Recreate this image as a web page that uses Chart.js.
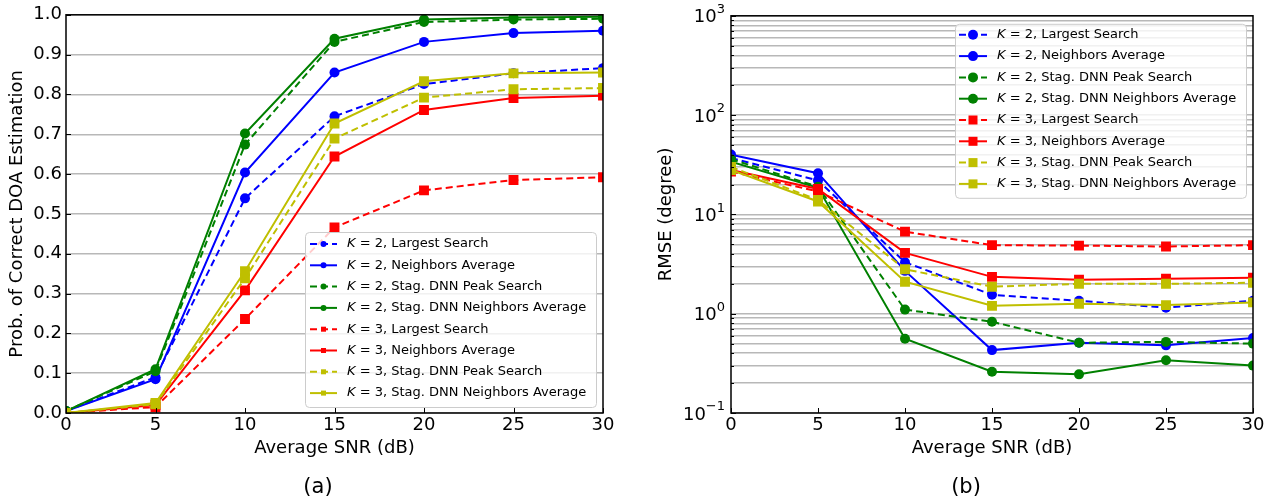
<!DOCTYPE html>
<html>
<head>
<meta charset="utf-8">
<script src="https://cdn.jsdelivr.net/npm/chart.js@4/dist/chart.umd.min.js"></script>
<style>
  body { margin: 0; background: #fff; width: 1268px; height: 502px; position: relative; overflow: hidden; font-family: 'DejaVu Sans', sans-serif; }
  .panel { position: absolute; top: 0; }
  .cap { position: absolute; top: 474px; width: 60px; text-align: center; font-size: 21px; color: #000; }
</style>
</head>
<body>
<div class="panel" style="left:0"><canvas id="probChart" width="634" height="502"></canvas></div>
<div class="panel" style="left:634px"><canvas id="rmseChart" width="634" height="502"></canvas></div>
<div class="cap" style="left:288px">(a)</div>
<div class="cap" style="left:936px">(b)</div>
<script>
// x axis: average SNR in dB
var snr = [0, 5, 10, 15, 20, 25, 30];
var snrTicks = [0, 5, 10, 15, 20, 25, 30];

var seriesLabels = [
  'K = 2, Largest Search',
  'K = 2, Neighbors Average',
  'K = 2, Stag. DNN Peak Search',
  'K = 2, Stag. DNN Neighbors Average',
  'K = 3, Largest Search',
  'K = 3, Neighbors Average',
  'K = 3, Stag. DNN Peak Search',
  'K = 3, Stag. DNN Neighbors Average'
];

// (a) probability of correct DOA estimation
var probK2Largest   = [0.005, 0.090, 0.539, 0.745, 0.826, 0.853, 0.866];
var probK2Neighbors = [0.005, 0.085, 0.604, 0.855, 0.932, 0.954, 0.960];
var probK2StagPeak  = [0.005, 0.105, 0.674, 0.932, 0.982, 0.988, 0.990];
var probK2StagNeigh = [0.005, 0.110, 0.702, 0.940, 0.988, 0.993, 0.995];
var probK3Largest   = [0.000, 0.015, 0.236, 0.466, 0.559, 0.585, 0.592];
var probK3Neighbors = [0.000, 0.020, 0.308, 0.644, 0.761, 0.791, 0.797];
var probK3StagPeak  = [0.000, 0.022, 0.338, 0.689, 0.792, 0.813, 0.816];
var probK3StagNeigh = [0.000, 0.025, 0.356, 0.727, 0.833, 0.853, 0.855];
var probTicks = [0, 0.1, 0.2, 0.3, 0.4, 0.5, 0.6, 0.7, 0.8, 0.9, 1.0];

// (b) RMSE in degree
var rmseK2Largest   = [37, 22, 3.3, 1.55, 1.35, 1.15, 1.35];
var rmseK2Neighbors = [40, 26, 2.7, 0.43, 0.51, 0.48, 0.57];
var rmseK2StagPeak  = [36, 19, 1.1, 0.83, 0.51, 0.52, 0.50];
var rmseK2StagNeigh = [34, 18.5, 0.56, 0.26, 0.245, 0.34, 0.30];
var rmseK3Largest   = [27, 17, 6.7, 4.9, 4.85, 4.75, 4.9];
var rmseK3Neighbors = [28, 18, 4.1, 2.35, 2.2, 2.25, 2.3];
var rmseK3StagPeak  = [30, 14, 2.8, 1.87, 2.0, 2.0, 2.05];
var rmseK3StagNeigh = [28, 13.5, 2.1, 1.2, 1.26, 1.22, 1.3];
var rmseTicks = [0.1, 0.2, 0.3, 0.4, 0.5, 0.6, 0.7, 0.8, 0.9,
                 1, 2, 3, 4, 5, 6, 7, 8, 9,
                 10, 20, 30, 40, 50, 60, 70, 80, 90,
                 100, 200, 300, 400, 500, 600, 700, 800, 900, 1000];
// decade ticks -> exponent shown as superscript
var rmseTickExp = { '0.1': '\u22121', '1': '0', '10': '1', '100': '2', '1000': '3' };

var seriesColors = ['#0000ff', '#0000ff', '#008000', '#008000', '#ff0000', '#ff0000', '#bfbf00', '#bfbf00'];
var seriesDashed = [true, false, true, false, true, false, true, false];
var seriesMarkers = ['circle', 'circle', 'circle', 'circle', 'rect', 'rect', 'rect', 'rect'];

Chart.defaults.font.family = "'DejaVu Sans', sans-serif";
Chart.defaults.color = '#000';

function makeDatasets(seriesList) {
  return seriesList.map(function(vals, i) {
    return {
      label: seriesLabels[i],
      data: snr.map(function(x, j) { return {x: x, y: vals[j]}; }),
      borderColor: seriesColors[i],
      backgroundColor: seriesColors[i],
      borderWidth: 2,
      borderDash: seriesDashed[i] ? [7, 4] : [],
      pointStyle: seriesMarkers[i],
      pointRadius: seriesMarkers[i] === 'rect' ? 7 : 5,
      pointBorderWidth: 0,
      pointBackgroundColor: seriesColors[i],
      tension: 0,
      order: seriesList.length - i
    };
  });
}

// black frame plus inward tick marks, like the matplotlib axes
var frameTicks = {
  id: 'frameTicks',
  afterDatasetsDraw: function(chart) {
    var a = chart.chartArea, ctx = chart.ctx;
    var xs = chart.scales.x, ys = chart.scales.y;
    ctx.save();
    ctx.strokeStyle = '#000';
    ctx.lineWidth = 1;
    xs.ticks.forEach(function(t) {
      var px = Math.round(xs.getPixelForValue(t.value)) + 0.5;
      ctx.beginPath(); ctx.moveTo(px, a.bottom); ctx.lineTo(px, a.bottom - 5); ctx.stroke();
    });
    ys.ticks.forEach(function(t) {
      var py = Math.round(ys.getPixelForValue(t.value)) + 0.5;
      var len = (ys.type === 'logarithmic' && !rmseTickExp[String(t.value)]) ? 3 : 5;
      ctx.beginPath(); ctx.moveTo(a.left, py); ctx.lineTo(a.left + len, py); ctx.stroke();
    });
    ctx.lineWidth = 1.5;
    ctx.strokeRect(a.left, a.top, a.right - a.left, a.bottom - a.top);
    ctx.restore();
  }
};

// power-of-ten labels with a raised exponent
var powerLabels = {
  id: 'powerLabels',
  afterDraw: function(chart) {
    var ctx = chart.ctx, ys = chart.scales.y, a = chart.chartArea;
    ctx.save();
    ctx.fillStyle = '#000';
    ctx.textBaseline = 'middle';
    ys.ticks.forEach(function(t) {
      var exp = rmseTickExp[String(t.value)];
      if (!exp) return;
      var py = ys.getPixelForValue(t.value);
      ctx.font = "13px 'DejaVu Sans'";
      var ew = ctx.measureText(exp).width;
      ctx.font = "18px 'DejaVu Sans'";
      var bw = ctx.measureText('10').width;
      var right = a.left - 6;
      ctx.fillText('10', right - ew - bw, py + 2);
      ctx.font = "13px 'DejaVu Sans'";
      ctx.fillText(exp, right - ew, py - 6);
    });
    ctx.restore();
  }
};

// legend box inside the plot area
function insideLegend(box) {
  return {
    id: 'insideLegend',
    afterDraw: function(chart) {
      var ctx = chart.ctx, a = chart.chartArea;
      var left = a.right - box.right - box.width;
      var top = box.top !== undefined ? a.top + box.top : a.bottom - box.bottom - box.height;
      ctx.save();
      ctx.fillStyle = 'rgba(255,255,255,0.8)';
      ctx.strokeStyle = '#cccccc';
      ctx.lineWidth = 1;
      ctx.beginPath();
      ctx.roundRect(left + 0.5, top + 0.5, box.width, box.height, 4);
      ctx.fill();
      ctx.stroke();
      chart.data.datasets.forEach(function(ds, i) {
        var y = top + box.firstRow + i * box.rowGap;
        var x0 = left + box.lineStart, x1 = x0 + box.lineLen, xm = (x0 + x1) / 2;
        ctx.strokeStyle = ds.borderColor;
        ctx.fillStyle = ds.borderColor;
        ctx.lineWidth = 2;
        ctx.setLineDash(ds.borderDash);
        ctx.beginPath(); ctx.moveTo(x0, y); ctx.lineTo(x1, y); ctx.stroke();
        ctx.setLineDash([]);
        if (ds.pointStyle === 'rect') {
          ctx.fillRect(xm - box.markSize / 2, y - box.markSize / 2, box.markSize, box.markSize);
        } else {
          ctx.beginPath(); ctx.arc(xm, y, box.markSize / 2 + 0.5, 0, Math.PI * 2); ctx.fill();
        }
        ctx.fillStyle = '#000';
        ctx.textBaseline = 'middle';
        ctx.font = "italic 13px 'DejaVu Sans'";
        var tx = left + box.textStart;
        ctx.fillText(ds.label.charAt(0), tx, y);
        var w = ctx.measureText(ds.label.charAt(0)).width;
        ctx.font = "13px 'DejaVu Sans'";
        ctx.fillText(ds.label.slice(1), tx + w, y);
      });
      ctx.restore();
    }
  };
}

function xScale() {
  return {
    type: 'linear', min: 0, max: 30,
    afterBuildTicks: function(s) { s.ticks = snrTicks.map(function(v) { return {value: v}; }); },
    afterFit: function(s) { s.height = 89; },
    grid: {display: false, drawTicks: false},
    border: {display: false},
    ticks: {font: {size: 18}, padding: 2, maxRotation: 0, autoSkip: false},
    title: {display: true, text: 'Average SNR (dB)', font: {size: 18}, padding: {top: 0, bottom: 43}}
  };
}

new Chart(document.getElementById('probChart').getContext('2d'), {
  type: 'line',
  data: {datasets: makeDatasets([probK2Largest, probK2Neighbors, probK2StagPeak, probK2StagNeigh,
                                 probK3Largest, probK3Neighbors, probK3StagPeak, probK3StagNeigh])},
  options: {
    responsive: false,
    animation: false,
    layout: {padding: {top: 14, right: 31, left: 0, bottom: 0}},
    plugins: {legend: {display: false}, tooltip: {enabled: false}},
    scales: {
      x: xScale(),
      y: {
        type: 'linear', min: 0, max: 1,
        afterBuildTicks: function(s) { s.ticks = probTicks.map(function(v) { return {value: v}; }); },
        afterFit: function(s) { s.width = 66; },
        grid: {color: '#b8b8b8', lineWidth: 1.5, drawTicks: false},
        border: {display: false},
        ticks: {font: {size: 18}, padding: 4, autoSkip: false, callback: function(v) { return v.toFixed(1); }},
        title: {display: true, text: 'Prob. of Correct DOA Estimation', font: {size: 18}, padding: {top: 7, bottom: 0}}
      }
    }
  },
  plugins: [frameTicks, insideLegend({right: 7, bottom: 6, width: 291, height: 175, firstRow: 12, rowGap: 21.3,
                                      lineStart: 5, lineLen: 27, markSize: 5, textStart: 42})]
});

new Chart(document.getElementById('rmseChart').getContext('2d'), {
  type: 'line',
  data: {datasets: makeDatasets([rmseK2Largest, rmseK2Neighbors, rmseK2StagPeak, rmseK2StagNeigh,
                                 rmseK3Largest, rmseK3Neighbors, rmseK3StagPeak, rmseK3StagNeigh])},
  options: {
    responsive: false,
    animation: false,
    layout: {padding: {top: 14, right: 15, left: 0, bottom: 0}},
    plugins: {legend: {display: false}, tooltip: {enabled: false}},
    scales: {
      x: xScale(),
      y: {
        type: 'logarithmic', min: 0.1, max: 1000,
        afterBuildTicks: function(s) { s.ticks = rmseTicks.map(function(v) { return {value: v}; }); },
        afterFit: function(s) { s.width = 97; },
        grid: {color: '#b8b8b8', lineWidth: 1.5, drawTicks: false},
        border: {display: false},
        ticks: {font: {size: 18}, padding: 5, autoSkip: false, callback: function() { return ''; }},
        title: {display: true, text: 'RMSE (degree)', font: {size: 18}, padding: {top: 22, bottom: 0}}
      }
    }
  },
  plugins: [frameTicks, powerLabels, insideLegend({right: 7, top: 8, width: 291, height: 174, firstRow: 11, rowGap: 21.3,
                                      lineStart: 4, lineLen: 28, markSize: 9, textStart: 42})]
});
</script>
</body>
</html>
